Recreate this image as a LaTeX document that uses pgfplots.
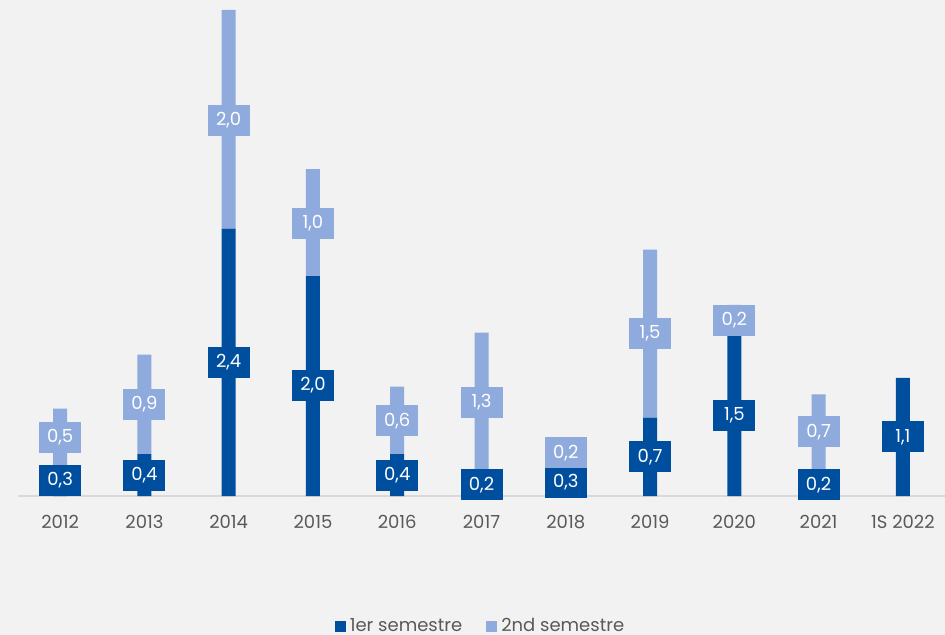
\documentclass[border=0pt]{standalone}
\usepackage{pgfplots}
\pgfplotsset{compat=1.18}
\usepackage{pgfplotstable}
\usepackage{fontspec}
\setmainfont{Poppins}
\definecolor{dkb}{HTML}{004F9F}
\definecolor{ltb}{HTML}{8FAADC}
\definecolor{bg}{HTML}{F2F2F2}
\definecolor{txt}{HTML}{595959}
\definecolor{axl}{HTML}{D9D9D9}

\pgfplotstableread{
x y lab
0 0.14 0,3
1 0.19 0,4
2 1.21 2,4
3 1.00 2,0
4 0.19 0,4
5 0.10 0,2
6 0.125 0,3
7 0.355 0,7
8 0.73 1,5
9 0.10 0,2
10 0.535 1,1
}\darklabels
\pgfplotstableread{
x y lab
0 0.53 0,5
1 0.83 0,9
2 3.40 2,0
3 2.47 1,0
4 0.68 0,6
5 0.85 1,3
6 0.39 0,2
7 1.47 1,5
8 1.59 0,2
9 0.58 0,7
}\lightlabels

\begin{document}
\begin{tikzpicture}
\fill[bg] (-9pt,-69.5pt) rectangle (463.5pt,248pt);
\useasboundingbox (-9pt,-69.5pt) rectangle (463.5pt,248pt);
\begin{axis}[
  at={(0,0)}, anchor=south west,
  scale only axis, width=463.5pt, height=248pt,
  xmin=-0.5, xmax=10.5, ymin=0, ymax=4.49,
  ybar stacked, bar width=7pt,
  axis x line*=bottom, axis y line=none,
  x axis line style={draw=axl, line width=0.8pt, -},
  xtick={0,...,10}, xtick style={draw=none},
  xticklabels={2012,2013,2014,2015,2016,2017,2018,2019,2020,2021,1S 2022},
  xticklabel style={font=\fontsize{9}{10}\selectfont, text=txt, yshift=-6pt},
  legend style={at={(0.5,0)}, anchor=center, yshift=-65pt, draw=none, fill=none,
    legend columns=2, font=\fontsize{9}{10}\selectfont, text=txt,
    /tikz/every even column/.append style={column sep=10pt}},
]
\addplot[fill=dkb, draw=none,
  legend image code/.code={\fill[dkb] (0pt,-2.75pt) rectangle (5.5pt,2.75pt);}]
  coordinates {(0,0.28) (1,0.38) (2,2.42) (3,1.99) (4,0.38) (5,0.23) (6,0.25) (7,0.71) (8,1.45) (9,0.24) (10,1.07)};
\addplot[fill=ltb, draw=none,
  legend image code/.code={\fill[ltb] (0pt,-2.75pt) rectangle (5.5pt,2.75pt);}]
  coordinates {(0,0.51) (1,0.90) (2,1.98) (3,0.97) (4,0.61) (5,1.25) (6,0.27) (7,1.52) (8,0.28) (9,0.68) (10,0)};
\legend{1er semestre, 2nd semestre}
\end{axis}
\begin{axis}[
  at={(0,0)}, anchor=south west,
  scale only axis, width=463.5pt, height=248pt,
  xmin=-0.5, xmax=10.5, ymin=0, ymax=4.49,
  hide axis,
  nodes near coords={\pgfplotspointmeta},
  point meta=explicit symbolic,
]
\addplot[draw=none, mark=none,
  every node near coord/.style={anchor=center, fill=dkb, text=white, inner sep=0pt,
    minimum width=21pt, minimum height=15.5pt, font=\fontsize{9}{10}\selectfont}]
  table[x=x, y=y, meta=lab] {\darklabels};
\addplot[draw=none, mark=none,
  every node near coord/.style={anchor=center, fill=ltb, text=white, inner sep=0pt,
    minimum width=21pt, minimum height=15.5pt, font=\fontsize{9}{10}\selectfont}]
  table[x=x, y=y, meta=lab] {\lightlabels};
\end{axis}
\end{tikzpicture}
\end{document}
